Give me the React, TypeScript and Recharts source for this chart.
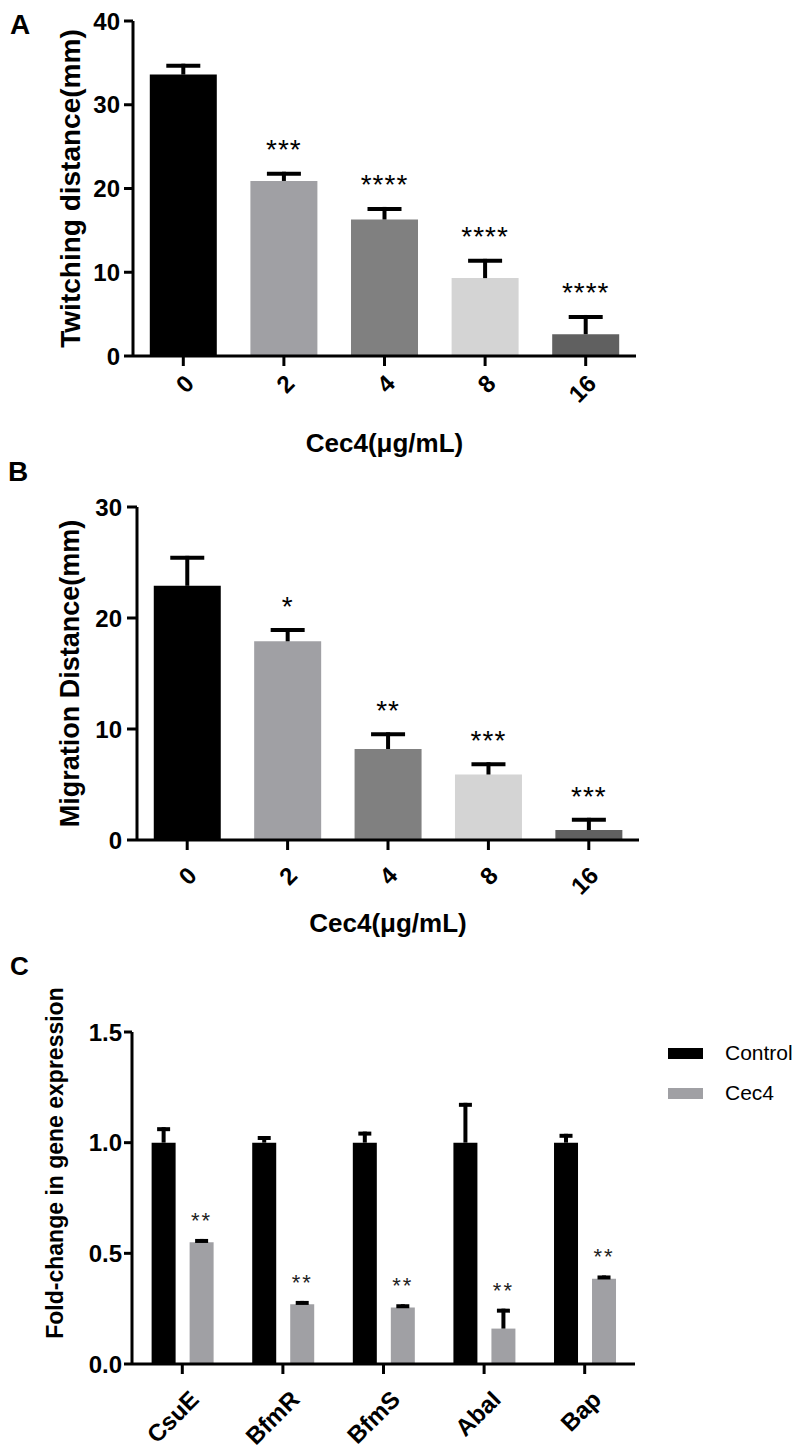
import React from "react";
import {
  BarChart,
  Bar,
  XAxis,
  YAxis,
  Cell,
  LabelList,
  Label,
  Legend,
} from "recharts";

// ---- data ----
const doses = ["0", "2", "4", "8", "16"];

const twitchMean = [33.6, 20.9, 16.3, 9.3, 2.6];
const twitchErr = [1.3, 1.1, 1.5, 2.3, 2.3];
const twitchStars = ["", "***", "****", "****", "****"];
const twitchTicks = [0, 10, 20, 30, 40];

const migrationMean = [22.9, 17.9, 8.2, 5.9, 0.9];
const migrationErr = [2.7, 1.2, 1.5, 1.1, 1.1];
const migrationStars = ["", "*", "**", "***", "***"];
const migrationTicks = [0, 10, 20, 30];

const genes = ["CsuE", "BfmR", "BfmS", "AbaI", "Bap"];
const groupNames = ["Control", "Cec4"];
const controlMean = [1.0, 1.0, 1.0, 1.0, 1.0];
const controlErr = [0.07, 0.03, 0.05, 0.18, 0.04];
const cec4Mean = [0.55, 0.27, 0.255, 0.16, 0.385];
const cec4Err = [0.015, 0.015, 0.015, 0.09, 0.015];
const cec4Stars = ["**", "**", "**", "**", "**"];
const foldTicks = [0, 0.5, 1.0, 1.5];

// ---- styles ----
const FONT = "'Liberation Sans', Arial, sans-serif";
const doseShades = ["#000000", "#a0a0a4", "#808080", "#d4d4d4", "#606060"];
const CONTROL_FILL = "#000000";
const CEC4_FILL = "#a0a0a4";

const twitchData = doses.map((d, i) => ({
  dose: d,
  mean: twitchMean[i],
  err: twitchErr[i],
  star: twitchStars[i],
}));
const migrationData = doses.map((d, i) => ({
  dose: d,
  mean: migrationMean[i],
  err: migrationErr[i],
  star: migrationStars[i],
}));
const geneData = genes.map((g, i) => ({
  gene: g,
  control: controlMean[i],
  controlErr: controlErr[i],
  cec4: cec4Mean[i],
  cec4Err: cec4Err[i],
  star: cec4Stars[i],
}));

// error bar drawn as a stacked segment on top of the mean: stem + cap
const errShape = (capW: number, thick: number) => (props: any) => {
  const { x, y, width, height } = props;
  if (x == null || y == null) return <g />;
  const cx = x + width / 2;
  return (
    <g>
      <line x1={cx} x2={cx} y1={y + height} y2={y} stroke="#000" strokeWidth={thick} />
      <line
        x1={cx - capW / 2}
        x2={cx + capW / 2}
        y1={y + thick / 2}
        y2={y + thick / 2}
        stroke="#000"
        strokeWidth={thick}
      />
    </g>
  );
};

const starLabel = (size: number, gap: number, color: string, spacing: number) => (props: any) => {
  const vb = props.viewBox || {};
  const x = props.x ?? vb.x;
  const y = props.y ?? vb.y;
  const w = props.width ?? vb.width;
  if (!props.value) return null;
  return (
    <text
      x={x + w / 2}
      y={y - gap}
      textAnchor="middle"
      fontSize={size}
      fontFamily={FONT}
      fill={color}
      letterSpacing={spacing}
    >
      {props.value}
    </text>
  );
};

const yTitle = (text: string, size: number, cx: number, shift: number) => (props: any) => {
  const vb = props.viewBox || {};
  const cy = vb.y + vb.height / 2 + shift;
  return (
    <text
      x={cx}
      y={cy}
      transform={`rotate(-90 ${cx} ${cy})`}
      textAnchor="middle"
      dominantBaseline="central"
      fontSize={size}
      fontWeight={700}
      fontFamily={FONT}
      fill="#000"
    >
      {text}
    </text>
  );
};

const xTitle = (text: string, size: number, down: number) => (props: any) => {
  const vb = props.viewBox || {};
  return (
    <text
      x={vb.x + vb.width / 2}
      y={vb.y + down}
      textAnchor="middle"
      dominantBaseline="central"
      fontSize={size}
      fontWeight={700}
      fontFamily={FONT}
      fill="#000"
    >
      {text}
    </text>
  );
};

const TICK_SIZE = 24;

// value ticks on the left axis
const yTick = (fmt: (v: number) => string) => (props: any) => {
  const { x, y, payload } = props;
  return (
    <text
      x={x}
      y={y}
      textAnchor="end"
      dominantBaseline="central"
      fontSize={TICK_SIZE}
      fontWeight={700}
      fontFamily={FONT}
      fill="#000"
    >
      {fmt(payload.value)}
    </text>
  );
};

// category ticks, rotated 45 degrees
const xTick = (dx: number) => (props: any) => {
  const { x, y, payload } = props;
  const ax = x + dx;
  return (
    <text
      x={ax}
      y={y}
      dy="0.71em"
      transform={`rotate(-45 ${ax} ${y})`}
      textAnchor="end"
      fontSize={TICK_SIZE}
      fontWeight={700}
      fontFamily={FONT}
      fill="#000"
    >
      {payload.value}
    </text>
  );
};

const axisStroke = { stroke: "#000", strokeWidth: 3 };

// legend: only the two groups, in series order
const GeneLegend = (props: any) => {
  const items = (props.payload || [])
    .filter((p: any) => groupNames.includes(p.value))
    .sort((a: any, b: any) => groupNames.indexOf(a.value) - groupNames.indexOf(b.value));
  return (
    <div>
      {items.map((p: any) => (
        <div key={p.value} style={{ display: "flex", alignItems: "center", height: 40 }}>
          <span
            style={{ display: "inline-block", width: 35, height: 11, background: p.color, marginRight: 22 }}
          />
          <span style={{ fontSize: 21, fontFamily: FONT, color: "#000" }}>{p.value}</span>
        </div>
      ))}
    </div>
  );
};

const panelLetter = (t: string, left: number, top: number, size: number) => (
  <div
    style={{
      position: "absolute",
      left,
      top,
      fontSize: size,
      lineHeight: `${size}px`,
      fontWeight: 700,
      fontFamily: FONT,
    }}
  >
    {t}
  </div>
);

const intFmt = (v: number) => String(v);
const oneDec = (v: number) => v.toFixed(1);

const App: React.FC = () => {
  return (
    <div style={{ position: "absolute", left: 0, top: 0, width: 798, height: 1450, background: "#fff" }}>
      {panelLetter("A", 10, 11, 28)}
      {panelLetter("B", 8, 458, 28)}
      {panelLetter("C", 10, 953, 26)}

      {/* A: twitching motility */}
      <div style={{ position: "absolute", left: 0, top: 0 }}>
        <BarChart
          width={798}
          height={470}
          data={twitchData}
          margin={{ top: 21, right: 162, left: 0, bottom: 0 }}
          barCategoryGap="16.7%"
        >
          <XAxis
            dataKey="dose"
            height={114}
            interval={0}
            tickSize={10}
            tickMargin={7}
            axisLine={axisStroke}
            tickLine={axisStroke}
            tick={xTick(0)}
          >
            <Label content={xTitle("Cec4(μg/mL)", 26, 87)} />
          </XAxis>
          <YAxis
            domain={[0, 40]}
            ticks={twitchTicks}
            interval={0}
            width={133}
            tickSize={9}
            tickMargin={4}
            axisLine={axisStroke}
            tickLine={axisStroke}
            tick={yTick(intFmt)}
          >
            <Label content={yTitle("Twitching distance(mm)", 28, 70, 0)} />
          </YAxis>
          <Bar dataKey="mean" stackId="a" isAnimationActive={false}>
            {twitchData.map((_, i) => (
              <Cell key={i} fill={doseShades[i]} />
            ))}
          </Bar>
          <Bar dataKey="err" stackId="a" isAnimationActive={false} legendType="none" shape={errShape(34, 4)}>
            <LabelList dataKey="star" content={starLabel(28, 13, "#000", 1)} />
          </Bar>
        </BarChart>
      </div>

      {/* B: migration */}
      <div style={{ position: "absolute", left: 0, top: 470 }}>
        <BarChart
          width={798}
          height={470}
          data={migrationData}
          margin={{ top: 37, right: 159, left: 0, bottom: 0 }}
          barCategoryGap="16.7%"
        >
          <XAxis
            dataKey="dose"
            height={100}
            interval={0}
            tickSize={10}
            tickMargin={15}
            axisLine={axisStroke}
            tickLine={axisStroke}
            tick={xTick(-1)}
          >
            <Label content={xTitle("Cec4(μg/mL)", 26, 83)} />
          </XAxis>
          <YAxis
            domain={[0, 30]}
            ticks={migrationTicks}
            interval={0}
            width={137}
            tickSize={10}
            tickMargin={5}
            axisLine={axisStroke}
            tickLine={axisStroke}
            tick={yTick(intFmt)}
          >
            <Label content={yTitle("Migration Distance(mm)", 27, 70, 0)} />
          </YAxis>
          <Bar dataKey="mean" stackId="a" isAnimationActive={false}>
            {migrationData.map((_, i) => (
              <Cell key={i} fill={doseShades[i]} />
            ))}
          </Bar>
          <Bar dataKey="err" stackId="a" isAnimationActive={false} legendType="none" shape={errShape(34, 4)}>
            <LabelList dataKey="star" content={starLabel(28, 12, "#000", 1)} />
          </Bar>
        </BarChart>
      </div>

      {/* C: gene expression */}
      <div style={{ position: "absolute", left: 0, top: 940 }}>
        <BarChart
          width={798}
          height={510}
          data={geneData}
          margin={{ top: 92, right: 163, left: 0, bottom: 0 }}
          barCategoryGap="19.5%"
          barGap={14}
        >
          <XAxis
            dataKey="gene"
            height={86}
            interval={0}
            tickSize={10}
            tickMargin={15}
            axisLine={axisStroke}
            tickLine={axisStroke}
            tick={xTick(6)}
          />
          <YAxis
            domain={[0, 1.5]}
            ticks={foldTicks}
            interval={0}
            width={132}
            tickSize={8}
            tickMargin={2}
            axisLine={axisStroke}
            tickLine={axisStroke}
            tick={yTick(oneDec)}
          >
            <Label content={yTitle("Fold-change in gene expression", 23, 55, -35)} />
          </YAxis>
          <Legend
            layout="horizontal"
            verticalAlign="middle"
            align="center"
            wrapperStyle={{ left: 668, top: 93, width: 130 }}
            content={GeneLegend}
          />
          <Bar dataKey="control" name="Control" stackId="ctrl" fill={CONTROL_FILL} isAnimationActive={false} />
          <Bar
            dataKey="controlErr"
            stackId="ctrl"
            isAnimationActive={false}
            legendType="none"
            shape={errShape(13, 4)}
          />
          <Bar dataKey="cec4" name="Cec4" stackId="cec" fill={CEC4_FILL} isAnimationActive={false} />
          <Bar dataKey="cec4Err" stackId="cec" isAnimationActive={false} legendType="none" shape={errShape(13, 4)}>
            <LabelList dataKey="star" content={starLabel(22, 11, "#222", 2)} />
          </Bar>
        </BarChart>
      </div>
    </div>
  );
};

export default App;
